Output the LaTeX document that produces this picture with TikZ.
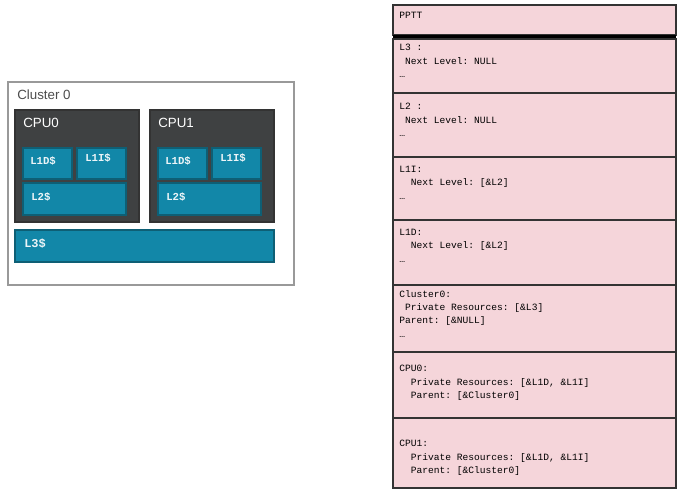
\documentclass[tikz,border=0pt]{standalone}
\usepackage{fontspec}
\setmainfont{Liberation Sans}
\setmonofont{Liberation Mono}
\definecolor{cpu}{HTML}{3F4142}
\definecolor{teal}{HTML}{1287A8}
\definecolor{tealb}{HTML}{0E5F75}
\definecolor{pink}{HTML}{F5D5DA}
\begin{document}
\begin{tikzpicture}[x=0.75pt,y=-0.75pt,
 cache/.style={fill=teal,draw=tealb,line width=1.2pt},
 cpubox/.style={fill=cpu,draw=black!80,line width=0.8pt},
 row/.style={fill=pink,draw=black!80,line width=0.8pt},
 ctxt/.style={text=white!92!teal,font=\ttfamily\bfseries\fontsize{8}{9}\selectfont,anchor=west,inner sep=0},
 rtxt/.style={font=\ttfamily\fontsize{7.2}{10}\selectfont,anchor=north west,inner sep=0,align=left}]
\useasboundingbox (0,0) rectangle (682,494);
\draw[draw=black!40,line width=1.2pt] (8,82) rectangle (294,285);
\node[anchor=west,inner sep=0,text=black!70,font=\fontsize{10}{12}\selectfont] (cl) at (17,95) {Cluster 0};
\foreach \n/\x in {0/15,1/150}{
 \draw[cpubox] (\x,110) rectangle ++(124,112);
 \node[anchor=west,inner sep=0,text=white,font=\fontsize{10}{12}\selectfont] (cpu\n) at (\x+8,123) {CPU\n};
 \draw[cache] (\x+8,148) rectangle ++(49,31);
 \node[ctxt] (lid\n) at (\x+15,161) {L1D\$};
 \draw[cache] (\x+62,148) rectangle ++(49,31);
 \node[ctxt] (lii\n) at (\x+70,158) {L1I\$};
 \draw[cache] (\x+8,183) rectangle ++(103,32);
 \node[ctxt] (ltwo\n) at (\x+16,197) {L2\$};
}
\draw[cache] (15,230) rectangle (274,262);
\node[ctxt,font=\ttfamily\bfseries\fontsize{9}{10}\selectfont] (lthree) at (24,244) {L3\$};
% table
\draw[row] (393,5) rectangle (676,35);
\node[rtxt] (pptt) at (399,12) {PPTT};
\draw[line width=2.5pt] (393,37) -- (676,37);
\draw[row] (393,39) rectangle (676,93);
\node[rtxt] (r1) at (399,44) {L3 :\\ \ Next Level: NULL\\…};
\draw[row] (393,93) rectangle (676,157);
\node[rtxt] (r2) at (399,103) {L2 :\\ \ Next Level: NULL\\…};
\draw[row] (393,157) rectangle (676,220);
\node[rtxt] (r3) at (399,166) {L1I:\\ \ \ Next Level: [\&L2]\\…};
\draw[row] (393,220) rectangle (676,285);
\node[rtxt] (r4) at (399,229) {L1D:\\ \ \ Next Level: [\&L2]\\…};
\draw[row] (393,285) rectangle (676,352);
\node[rtxt] (r5) at (399,290) {Cluster0:\\ \ Private Resources: [\&L3]\\Parent: [\&NULL]\\…};
\draw[row] (393,352) rectangle (676,418);
\node[rtxt] (r6) at (399,365) {CPU0:\\ \ \ Private Resources: [\&L1D, \&L1I]\\ \ \ Parent: [\&Cluster0]};
\draw[row] (393,418) rectangle (676,488);
\node[rtxt] (r7) at (399,440) {CPU1:\\ \ \ Private Resources: [\&L1D, \&L1I]\\ \ \ Parent: [\&Cluster0]};
\end{tikzpicture}
\end{document}
